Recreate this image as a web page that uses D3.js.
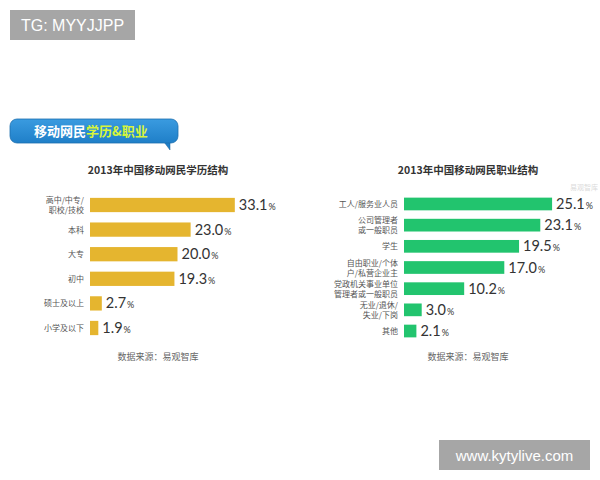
<!DOCTYPE html>
<html>
<head>
<meta charset="utf-8">
<script src="https://cdn.jsdelivr.net/npm/d3@7"></script>
<style>
  body { margin: 0; background: #fff; }
  svg { font-family: "Noto Sans CJK SC", "Noto Sans", sans-serif; }
</style>
</head>
<body>
<div id="chart"></div>
<script>
// education data
const eduCats = [["高中/中专/", "职校/技校"], ["本科"], ["大专"], ["初中"], ["硕士及以上"], ["小学及以下"]];
const eduVals = [33.1, 23.0, 20.0, 19.3, 2.7, 1.9];

// occupation data
const jobCats = [["工人/服务业人员"], ["公司管理者", "或一般职员"], ["学生"], ["自由职业/个体", "户/私营企业主"], ["党政机关事业单位", "管理者或一般职员"], ["无业/退休/", "失业/下岗"], ["其他"]];
const jobVals = [25.1, 23.1, 19.5, 17.0, 10.2, 3.0, 2.1];

const svg = d3.select("#chart").append("svg")
    .attr("width", 600)
    .attr("height", 480);

// watermark boxes
svg.append("rect").attr("x", 10).attr("y", 10).attr("width", 125).attr("height", 30).attr("fill", "#a6a6a6");
svg.append("text").attr("x", 72.5).attr("y", 31).attr("text-anchor", "middle")
    .style("font-family", "Liberation Sans, sans-serif").style("font-size", "16px").attr("fill", "#fff")
    .text("TG: MYYJJPP");
svg.append("rect").attr("x", 439).attr("y", 440).attr("width", 151).attr("height", 30).attr("fill", "#a6a6a6");
svg.append("text").attr("x", 514.5).attr("y", 461).attr("text-anchor", "middle")
    .style("font-family", "Liberation Sans, sans-serif").style("font-size", "15px").attr("fill", "#fff")
    .text("www.kytylive.com");

// banner
const grad = svg.append("defs").append("linearGradient").attr("id", "bannerGrad")
    .attr("x1", 0).attr("y1", 0).attr("x2", 0).attr("y2", 1);
grad.append("stop").attr("offset", "0%").attr("stop-color", "#3a9be0");
grad.append("stop").attr("offset", "100%").attr("stop-color", "#1f7fc8");
svg.append("path")
    .attr("d", "M164,142 L170,150 L170,142 Z")
    .attr("fill", "#1f7fc8").attr("stroke", "#1a5f96").attr("stroke-width", 0.5);
svg.append("rect").attr("x", 10).attr("y", 119).attr("width", 168).attr("height", 24).attr("rx", 7)
    .attr("fill", "url(#bannerGrad)").attr("stroke", "#1c6fae").attr("stroke-width", 0.8);
const bt = svg.append("text").attr("x", 34).attr("y", 136)
    .style("font-size", "13px").style("font-weight", "bold");
bt.append("tspan").attr("fill", "#ffffff").text("移动网民");
bt.append("tspan").attr("fill", "#d8f53a").text("学历&职业");

// draw one bar chart
function drawBars(opts) {
    const x = d3.scaleLinear().domain([0, opts.max]).range([opts.x0, opts.x0 + opts.width]);
    const y = d3.scaleBand()
        .domain(d3.range(opts.vals.length))
        .range(opts.yRange)
        .paddingInner(opts.pad)
        .paddingOuter(opts.pad / 2);

    const g = svg.append("g");

    // title
    g.append("text")
        .attr("x", opts.cx).attr("y", 174)
        .attr("text-anchor", "middle")
        .style("font-size", "10.5px").style("font-weight", "bold")
        .attr("fill", "#333")
        .text(opts.title);

    // bars
    g.selectAll("rect.bar")
        .data(opts.vals)
        .join("rect")
        .attr("class", "bar")
        .attr("x", x(0))
        .attr("y", (d, i) => y(i))
        .attr("width", d => x(d) - x(0))
        .attr("height", y.bandwidth())
        .attr("fill", opts.color);

    // value labels
    const vl = g.selectAll("text.val")
        .data(opts.vals)
        .join("text")
        .attr("class", "val")
        .attr("x", d => x(d) + 4)
        .attr("y", (d, i) => y(i) + y.bandwidth() / 2 + 5)
        .attr("fill", "#333")
        .style("font-family", "Lato, sans-serif");
    vl.append("tspan").style("font-size", "14.5px").text(d => d.toFixed(1));
    vl.append("tspan").style("font-size", "9px").attr("dx", 1).text("%");

    // category labels
    const cl = g.selectAll("text.cat")
        .data(opts.cats)
        .join("text")
        .attr("class", "cat")
        .attr("text-anchor", "end")
        .attr("fill", "#555")
        .style("font-size", "8px");
    cl.each(function(d, i) {
        const t = d3.select(this);
        const cy = y(i) + y.bandwidth() / 2;
        d.forEach((line, j) => {
            t.append("tspan")
                .attr("x", x(0) - 6)
                .attr("y", cy + 3 + (j - (d.length - 1) / 2) * 10)
                .text(line);
        });
    });

    // source
    g.append("text")
        .attr("x", opts.cx).attr("y", 360)
        .attr("text-anchor", "middle")
        .style("font-size", "9px")
        .attr("fill", "#666")
        .text("数据来源：易观智库");
}

drawBars({
    title: "2013年中国移动网民学历结构",
    cats: eduCats, vals: eduVals,
    max: 40, x0: 90, width: 175,
    yRange: [192.7, 340.3], pad: 0.42,
    color: "#e5b52f", cx: 158
});

drawBars({
    title: "2013年中国移动网民职业结构",
    cats: jobCats, vals: jobVals,
    max: 30, x0: 404, width: 177,
    yRange: [193.4, 341.6], pad: 0.4,
    color: "#22c46e", cx: 468
});

// faint watermark
svg.append("text").attr("x", 598).attr("y", 190)
    .attr("text-anchor", "end")
    .style("font-size", "7px").attr("fill", "#ccc").attr("opacity", 0.7)
    .text("易观智库");
</script>
</body>
</html>
